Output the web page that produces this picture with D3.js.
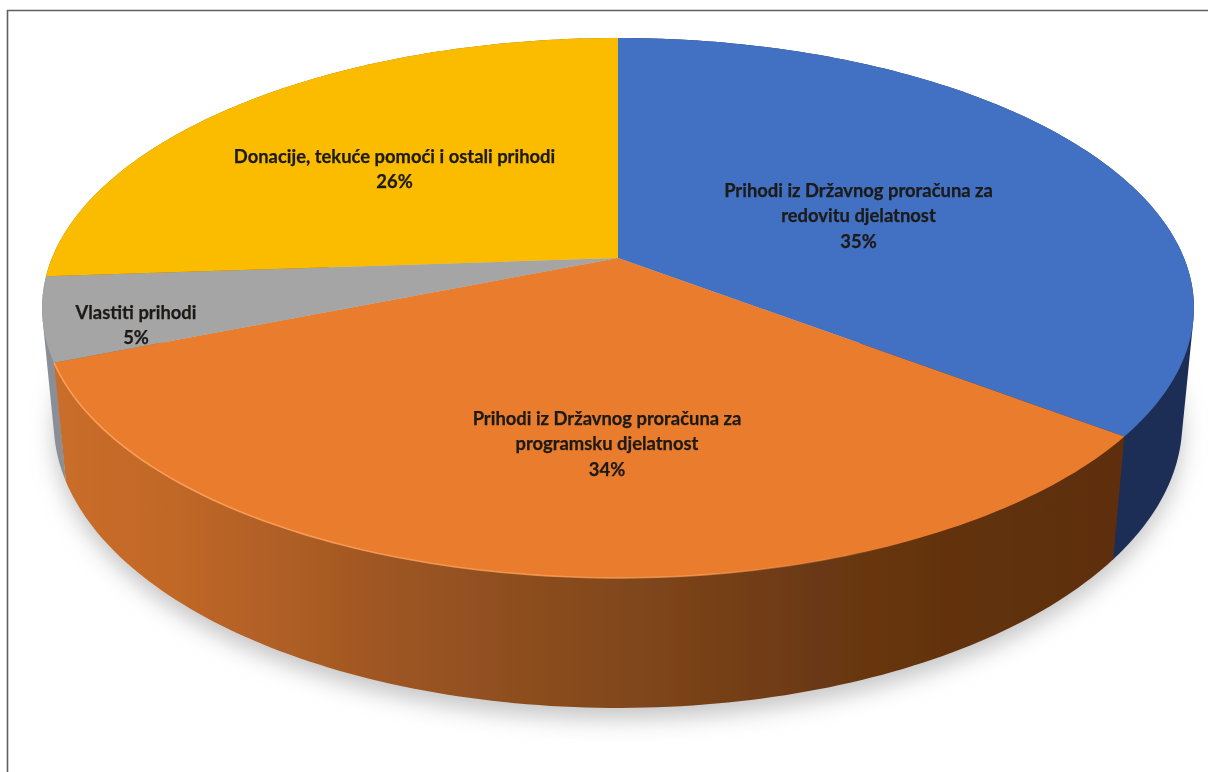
<!DOCTYPE html>
<html>
<head>
<meta charset="utf-8">
<script src="https://cdnjs.cloudflare.com/ajax/libs/d3/7.8.5/d3.min.js"></script>
<style>
html,body{margin:0;padding:0;background:#fff;overflow:hidden}
svg{display:block}
text{font-family:Lato,"Open Sans",sans-serif;font-weight:700;fill:#1c1a17;stroke:#1c1a17;stroke-width:0.25px}
</style>
</head>
<body>
<svg id="chart" width="1208" height="772"></svg>
<script>
const categories = [
  ["Prihodi iz Državnog proračuna za", "redovitu djelatnost"],
  ["Prihodi iz Državnog proračuna za", "programsku djelatnost"],
  ["Vlastiti prihodi"],
  ["Donacije, tekuće pomoći i ostali prihodi"]
];
const shares = [35.4, 33.5, 5.0, 26.1];
const topColors = ["#4371c3", "#ea7b2e", "#a5a5a5", "#fbbc00"];
const sideColors = ["#1a2f56", "url(#orangeSide)", "#8a8f97", "#8a6800"];
const labelCenters = [[858.5, 190], [607, 418], [136, 312], [394.5, 156]];
const W = 1208, H = 772;

/* Perspective view of a unit disc (apex at cx,cy) with a wall of unit depth */
const cx = 618, cy = 258, a = 566, b = 260.7, k = 0.185, c = 115, m = 0.02;
const project = (ang, z) => {
  const x = Math.sin(ang), y = -Math.cos(ang);
  const w = 1 - k * y + m * z;
  return [cx + a * x / w, cy + (b * y + c * z) / w];
};
const svg = d3.select("#chart");
const defs = svg.append("defs");
const grad = defs.append("linearGradient").attr("id", "orangeSide")
  .attr("gradientUnits", "userSpaceOnUse").attr("x1", 60).attr("x2", 1120).attr("y1", 0).attr("y2", 0);
[[0, "#c96d29"], [0.1, "#c26828"], [0.32, "#9c5522"], [0.51, "#84491d"], [0.72, "#6a3812"], [0.9, "#5f300e"], [1, "#5e2f0d"]]
  .forEach(([o, col]) => grad.append("stop").attr("offset", o).attr("stop-color", col));
const rim = defs.append("linearGradient").attr("id", "rimLight")
  .attr("gradientUnits", "userSpaceOnUse").attr("x1", 60).attr("x2", 1120).attr("y1", 0).attr("y2", 0);
[[0, "#ffa45c", 0.9], [0.6, "#ffa45c", 0.7], [0.8, "#ffa45c", 0]]
  .forEach(([o, col, op]) => rim.append("stop").attr("offset", o).attr("stop-color", col).attr("stop-opacity", op));
defs.append("filter").attr("id", "shadowBlur").attr("x", "-10%").attr("y", "-10%").attr("width", "120%").attr("height", "130%")
  .append("feGaussianBlur").attr("stdDeviation", 11);
defs.append("filter").attr("id", "soft").attr("x", "-5%").attr("y", "-5%").attr("width", "110%").attr("height", "110%")
  .append("feGaussianBlur").attr("stdDeviation", 0.55);
defs.append("filter").attr("id", "softText").attr("x", "-5%").attr("y", "-20%").attr("width", "110%").attr("height", "140%")
  .append("feGaussianBlur").attr("stdDeviation", 0.55);

const pie = d3.pie().sort(null).value(d => d);
const arcs = pie(shares);
const line = d3.line();
const arcPts = (a0, a1, z) => d3.range(0, 121).map(i => project(a0 + (a1 - a0) * i / 120, z));
/* a wall is the hull of its top and bottom rim arcs, so the silhouette is tangent to both */
const wallPath = d => line(d3.polygonHull(arcPts(d.startAngle, d.endAngle, 0).concat(arcPts(d.startAngle, d.endAngle, 1)))) + "Z";
const topPath = d => line([[cx, cy]].concat(arcPts(d.startAngle, d.endAngle, 0))) + "Z";

/* frame */
svg.append("path").attr("d", `M7.5 ${H}V10.5H${W}`).attr("fill", "none").attr("stroke", "#5f5f5f").attr("stroke-width", 1.6);

/* shadow */
svg.append("path")
  .attr("d", line(arcPts(0, 2 * Math.PI, 1)) + "Z")
  .attr("transform", "translate(0,11)")
  .attr("fill", "#c6c6c6")
  .attr("filter", "url(#shadowBlur)");

const pieG = svg.append("g").attr("filter", "url(#soft)");
/* walls, back to front */
[3, 2, 0, 1].forEach(i => {
  pieG.append("path").attr("d", wallPath(arcs[i])).attr("fill", sideColors[i]);
});
/* top faces */
pieG.selectAll("path.top").data(arcs).join("path").attr("class", "top")
  .attr("d", topPath).attr("fill", (d, i) => topColors[i]);
/* light along orange rim */
pieG.append("path")
  .attr("d", line(arcPts(arcs[1].startAngle, arcs[1].endAngle, 0)))
  .attr("fill", "none").attr("stroke", "url(#rimLight)").attr("stroke-width", 1.6);

/* labels */
const lh = 25.7;
const labelG = svg.append("g").attr("filter", "url(#softText)");
categories.forEach((lines, i) => {
  const t = labelG.append("text").attr("text-anchor", "middle").attr("font-size", 18.4);
  lines.concat([Math.round(shares[i]) + "%"]).forEach((s, j) => {
    t.append("tspan").attr("x", labelCenters[i][0]).attr("y", labelCenters[i][1] + j * lh + 6.5).text(s);
  });
});
</script>
</body>
</html>
